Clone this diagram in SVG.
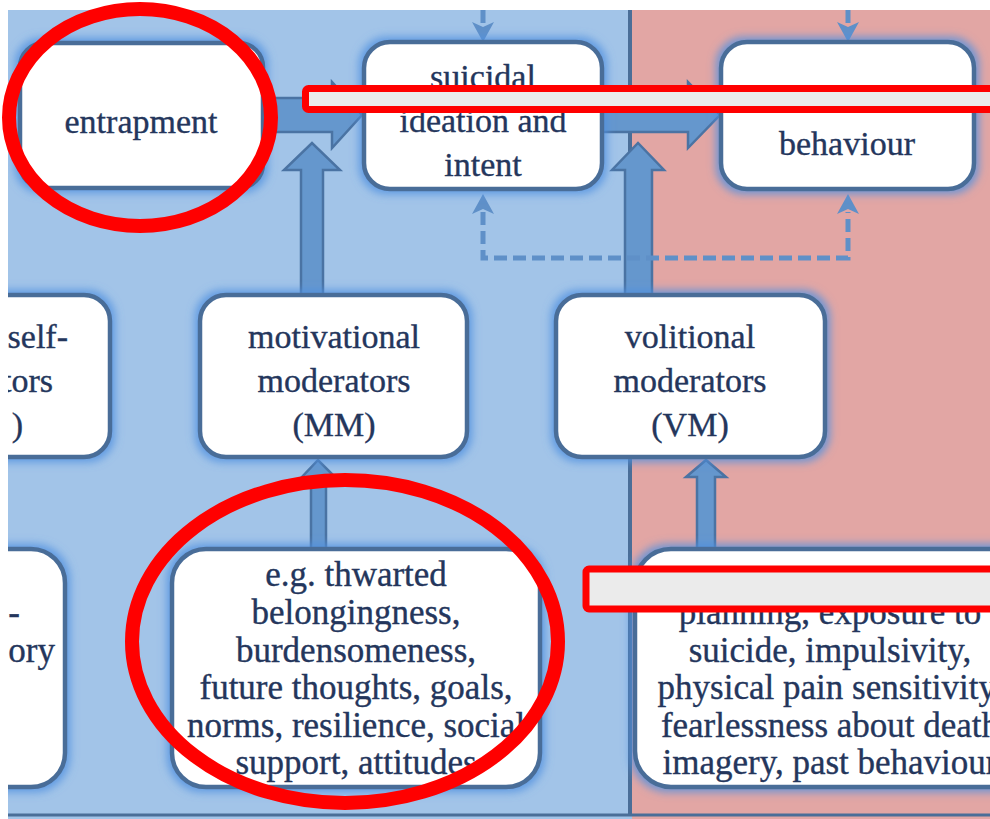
<svg xmlns="http://www.w3.org/2000/svg" width="990" height="819" viewBox="0 0 990 819">
<defs>
<style>
.box{fill:#ffffff;stroke:#4a6d98;stroke-width:4.5}
.t{font-family:'Liberation Serif','DejaVu Serif',serif;font-size:34px;fill:#24365c;stroke:#24365c;stroke-width:0.35;text-anchor:middle}
.ex{font-size:35px}
.end{text-anchor:end}
.arrow{fill:#6597cd;stroke:#4a73a3;stroke-width:2.5;stroke-linejoin:miter}
.dash{fill:none;stroke:#5f90c8;stroke-width:5;stroke-dasharray:13 6}
.ring{fill:none;stroke:#ff0000;stroke-width:14}
.bar{fill:#ebebeb;stroke:#ff0000;stroke-width:7}
</style>
<filter id="glow" x="-15%" y="-15%" width="130%" height="130%">
<feMorphology in="SourceAlpha" operator="dilate" radius="3" result="d"/>
<feGaussianBlur in="d" stdDeviation="4.5" result="b"/>
<feFlood flood-color="#4f90e0" flood-opacity="0.8"/>
<feComposite in2="b" operator="in" result="g"/>
<feMerge><feMergeNode in="g"/><feMergeNode in="SourceGraphic"/></feMerge>
</filter>
<marker id="dh" viewBox="0 0 20 22" refX="2" refY="11" markerWidth="20" markerHeight="22" markerUnits="userSpaceOnUse" orient="auto-start-reverse">
<path d="M0,0 L20,11 L0,22 L5,11 Z" fill="#5f90c8"/>
</marker>
<clipPath id="panel"><rect x="8" y="10" width="982" height="809"/></clipPath>
</defs>
<rect x="0" y="0" width="990" height="819" fill="#ffffff"/>
<g clip-path="url(#panel)" font-family="Liberation Serif, DejaVu Serif, serif">
<rect x="8" y="10" width="624" height="809" fill="#a2c4e8"/>
<rect x="632" y="10" width="358" height="809" fill="#e2a6a4"/>
<line x1="630" y1="10" x2="630" y2="816" stroke="#4a6e98" stroke-width="4"/>
<line x1="8" y1="815" x2="990" y2="815" stroke="#4a6e98" stroke-width="3"/>

<g id="connectors">
<polygon class="arrow" points="250,98 332,98 332,82 362,115 332,148 332,132 250,132"/>
<polygon class="arrow" points="598,98 688,98 688,82 720,115 688,148 688,132 598,132"/>
<polygon class="arrow" points="301,297 301,170 284,170 312,143 340,170 323,170 323,297"/>
<polygon class="arrow" points="625,297 625,170 612,170 638,143 664,170 652,170 652,297"/>
<polygon class="arrow" points="311,552 311,478 301,478 318,460 336,478 326,478 326,552"/>
<polygon class="arrow" points="697,552 697,477 686,477 706,460 726,477 715,477 715,552"/>
<path class="dash" d="M483,10 V24" marker-end="url(#dh)"/>
<path class="dash" d="M848,10 V24" marker-end="url(#dh)"/>
<path class="dash" d="M483,212 V258 H848 V212" marker-start="url(#dh)" marker-end="url(#dh)"/>
</g>

<g id="node-entrapment">
<rect class="box" filter="url(#glow)" x="20" y="43" width="243" height="145" rx="24"/>
<text class="t" x="141" y="133">entrapment</text>
</g>
<g id="node-suicidal-ideation">
<rect class="box" filter="url(#glow)" x="364" y="42" width="238" height="147" rx="26"/>
<text class="t" x="483" y="88">suicidal</text>
<text class="t" x="483" y="132">ideation and</text>
<text class="t" x="483" y="176">intent</text>
</g>
<g id="node-behaviour">
<rect class="box" filter="url(#glow)" x="721" y="42" width="253" height="147" rx="26"/>
<text class="t" x="847" y="155">behaviour</text>
</g>
<g id="node-tsm">
<rect class="box" filter="url(#glow)" x="-160" y="295" width="270" height="162" rx="26"/>
<text class="t end" x="68" y="348">self-</text>
<text class="t end" x="53" y="392">tors</text>
<text class="t end" x="23" y="436">)</text>
</g>
<g id="node-mm">
<rect class="box" filter="url(#glow)" x="200" y="295" width="267" height="162" rx="26"/>
<text class="t" x="334" y="348">motivational</text>
<text class="t" x="334" y="392">moderators</text>
<text class="t" x="334" y="436">(MM)</text>
</g>
<g id="node-vm">
<rect class="box" filter="url(#glow)" x="556" y="295" width="269" height="162" rx="26"/>
<text class="t" x="690" y="348">volitional</text>
<text class="t" x="690" y="392">moderators</text>
<text class="t" x="690" y="436">(VM)</text>
</g>
<g id="node-tsm-examples">
<rect class="box" filter="url(#glow)" x="-300" y="549" width="365" height="238" rx="34"/>
<text class="t ex end" x="20" y="624">-</text>
<text class="t ex end" x="55" y="662">ory</text>
</g>
<g id="node-mm-examples">
<rect class="box" filter="url(#glow)" x="172" y="549" width="368" height="238" rx="34"/>
<text class="t ex" x="356" y="586">e.g. thwarted</text>
<text class="t ex" x="356" y="624">belongingness,</text>
<text class="t ex" x="356" y="662">burdensomeness,</text>
<text class="t ex" x="356" y="699">future thoughts, goals,</text>
<text class="t ex" x="356" y="737">norms, resilience, social</text>
<text class="t ex" x="356" y="774">support, attitudes</text>
</g>
<g id="node-vm-examples">
<rect class="box" filter="url(#glow)" x="635" y="549" width="400" height="238" rx="36"/>
<text class="t ex" x="830" y="624">planning, exposure to</text>
<text class="t ex" x="830" y="662">suicide, impulsivity,</text>
<text class="t ex" x="830" y="699">physical pain sensitivity,</text>
<text class="t ex" x="830" y="737">fearlessness about death</text>
<text class="t ex" x="830" y="774">imagery, past behaviour</text>
</g>
</g>

<g id="annotations">
<ellipse class="ring" cx="140" cy="117.5" rx="131" ry="108.5"/>
<ellipse class="ring" cx="345" cy="641.5" rx="213" ry="161.5"/>
<rect class="bar" x="305.5" y="88.5" width="700" height="21" rx="3"/>
<rect class="bar" x="586" y="569" width="420" height="40" rx="3"/>
</g>
</svg>
